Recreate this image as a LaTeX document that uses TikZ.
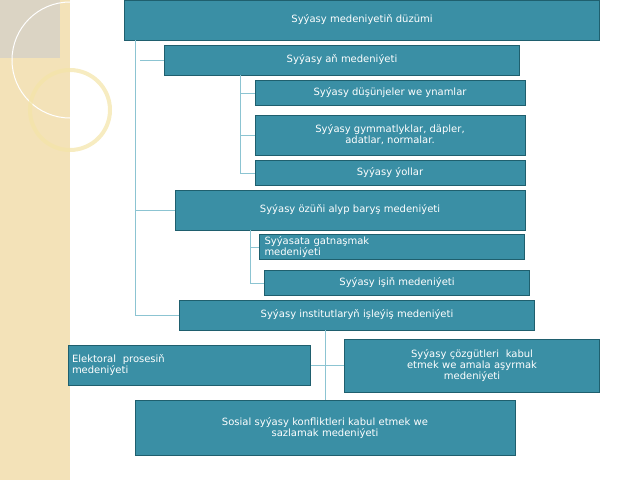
\documentclass[tikz,border=0pt]{standalone}
\usepackage{fontspec}
\setmainfont{DejaVu Sans}
\definecolor{boxfill}{HTML}{3A8FA5}
\definecolor{boxline}{HTML}{1F5F6E}
\definecolor{linkcol}{HTML}{8CC4D2}
\definecolor{stripcol}{HTML}{F3E2B8}
\tikzset{
  part/.style={draw=boxline, fill=boxfill, line width=1pt, text=white,
    font=\fontsize{10}{11}\selectfont, align=center, inner sep=2pt},
  link/.style={draw=linkcol, line width=1pt}
}
\begin{document}
\begin{tikzpicture}[x=1pt,y=-1pt]
\useasboundingbox (0,0) rectangle (640,480);
% Left decoration
\fill[stripcol] (0,0) rectangle (70,480);
\fill[black!20,opacity=.6] (0,0) rectangle (60,58);
\draw[white,line width=1pt] (70,60) circle (58);
\draw[yellow!50!brown!40,line width=4pt,opacity=.7] (70,110) circle (40);
% Boxes
\node[part, minimum width=475, minimum height=40] (root) at (362,20) {Syýasy medeniyetiň düzümi};
\node[part, minimum width=355, minimum height=30] (aň) at (342,60) {Syýasy aň medeniýeti};
\node[part, minimum width=270, minimum height=25] (aň-a) at (390,93) {Syýasy düşünjeler we ynamlar};
\node[part, minimum width=270, minimum height=40] (aň-b) at (390,135) {Syýasy gymmatlyklar, däpler,\\adatlar, normalar.};
\node[part, minimum width=270, minimum height=25] (aň-c) at (390,173) {Syýasy ýollar};
\node[part, minimum width=350, minimum height=40] (özüň) at (350,210) {Syýasy özüňi alyp baryş medeniýeti};
\node[part, minimum width=265, minimum height=25, text width=255, align=left, inner sep=0pt] (özüň-a) at (392,247) {Syýasata gatnaşmak\\medeniýeti};
\node[part, minimum width=265, minimum height=25] (özüň-b) at (397,283) {Syýasy işiň medeniýeti};
\node[part, minimum width=355, minimum height=30] (inst) at (357,315) {Syýasy institutlaryň işleýiş medeniýeti};
\node[part, minimum width=242, minimum height=40, text width=234, align=left] (inst-a) at (189,365) {Elektoral~ prosesiň\\medeniýeti};
\node[part, minimum width=255, minimum height=53, text width=245] (inst-b) at (472,366) {Syýasy çözgütleri~ kabul\\etmek we amala aşyrmak\\medeniýeti};
\node[part, minimum width=380, minimum height=55, text width=370, anchor=north] (inst-c) at (325,400) {Sosial syýasy konfliktleri kabul etmek we\\sazlamak medeniýeti\\[10pt]};
% Connectors
\coordinate (trunk) at (135,40);
\draw[link] (trunk) -- (135,315);
\draw[link] (140,60) -- (aň.west);
\draw[link] (135,210) -- (özüň.west);
\draw[link] (135,315) -- (inst.west);
\draw[link] (240,75) -- (240,173);
\foreach \n in {aň-a,aň-b,aň-c} \draw[link] (240,0 |- \n.west) -- (\n.west);
\draw[link] (250,230) -- (250,283);
\foreach \n in {özüň-a,özüň-b} \draw[link] (250,0 |- \n.west) -- (\n.west);
\draw[link] (325,330) -- (inst-c.north -| 325,0);
\draw[link] (inst-a.east) -- (inst-b.west |- inst-a.east);
\end{tikzpicture}
\end{document}
